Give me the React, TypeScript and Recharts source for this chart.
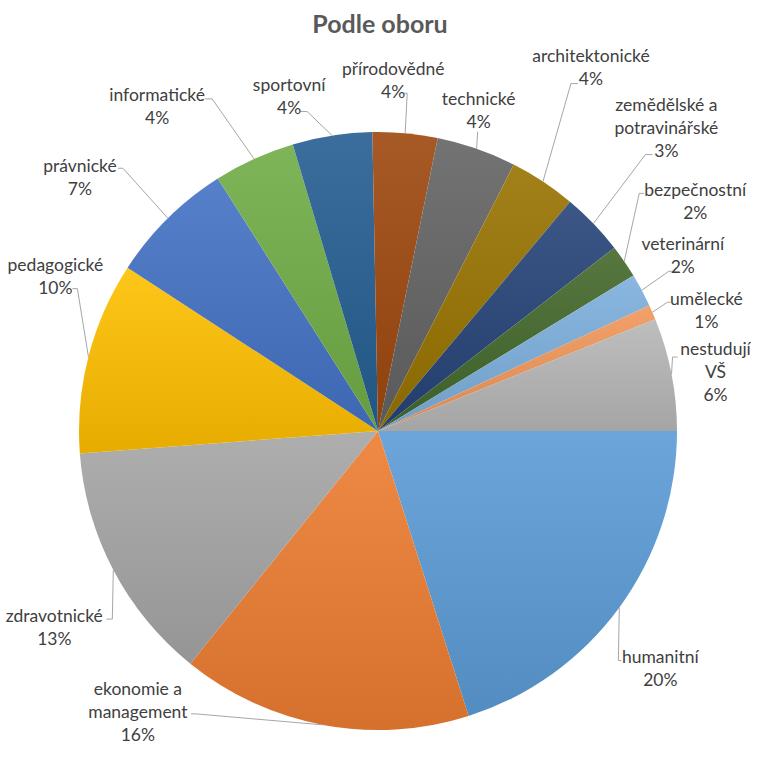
import { PieChart, Pie, Cell } from 'recharts';

// shares in percent (clockwise from 3 o'clock)
const categories = [
  'humanitní',
  'ekonomie a\nmanagement',
  'zdravotnické',
  'pedagogické',
  'právnické',
  'informatické',
  'sportovní',
  'přírodovědné',
  'technické',
  'architektonické',
  'zemědělské a\npotravinářské',
  'bezpečnostní',
  'veterinární',
  'umělecké',
  'nestudují\nVŠ',
];
const shares = [20.1, 15.7, 13.0, 10.4, 6.8, 4.4, 4.3, 3.5, 4.3, 3.6, 3.4, 1.8, 1.8, 0.8, 6.1];
const colors = [
  '#5B9BD5', '#ED7D31', '#A5A5A5', '#FFC000', '#4472C4', '#70AD47', '#255E91', '#9E480E',
  '#636363', '#997300', '#264478', '#43682B', '#7CAFDD', '#F1975A', '#B7B7B7',
];

// label placement, relative to the slice's outer mid point
const labelOffsets = [
  [41, 60], [-185, -14], [-59, 56], [-33, -81], [-88, -42], [-97, -53], [-43, -40], [-12, -54],
  [2, -39], [48, -115], [73, -97], [71, -61], [41, -36], [54, -3], [44, -3],
];
const leaderElbows = [
  [-1, 53], [-127, -11], [-1, 49], [-11, -68], [-45, -50], [-42, -60], [-25, -24], [2, -40],
  [1, -17], [28, -98], [52, -69], [15, -68], [27, -19], [15, -10], [1, -17],
];
const leaderEnds = [
  [2, 53], [-132, -11], [-7, 49], [-16, -68], [-50, -50], [-49, -60], [-32, -24], [-1, -40],
  [1, -17], [35, -98], [59, -69], [20, -68], [30, -19], [18, -10], [6, -17],
];

const data = categories.map((name, i) => ({ name, value: shares[i] }));
const total = shares.reduce((a, b) => a + b, 0);

const CX = 378;
const CY = 431;
const R = 299;
const LH = 23;
const RAD = Math.PI / 180;

function mix(hex: string, target: number, t: number) {
  const n = parseInt(hex.slice(1), 16);
  const ch = [(n >> 16) & 255, (n >> 8) & 255, n & 255].map((c) =>
    Math.round(c + (target - c) * t)
  );
  return '#' + ch.map((c) => c.toString(16).padStart(2, '0')).join('');
}

function renderLabel(props: any) {
  const { midAngle, index } = props;
  const cx = typeof props.cx === 'number' ? props.cx : CX;
  const cy = typeof props.cy === 'number' ? props.cy : CY;
  const r = typeof props.outerRadius === 'number' ? props.outerRadius : R;
  const ex = cx + r * Math.cos(-midAngle * RAD);
  const ey = cy + r * Math.sin(-midAngle * RAD);
  const [dx, dy] = labelOffsets[index];
  const [kx, ky] = leaderElbows[index];
  const [lx, ly] = leaderEnds[index];
  const pct = Math.round((shares[index] / total) * 100) + '%';
  const lines = [...categories[index].split('\n'), pct];
  const bx = ex + dx;
  const top = ey + dy - ((lines.length - 1) * LH) / 2;
  return (
    <g key={'lbl' + index}>
      <polyline
        points={`${ex},${ey} ${ex + kx},${ey + ky} ${ex + lx},${ey + ly}`}
        fill="none"
        stroke="#a6a6a6"
        strokeWidth={1}
      />
      <text
        x={bx}
        y={top}
        textAnchor="middle"
        dominantBaseline="central"
        fill="#404040"
        style={{ fontFamily: 'Lato, "Open Sans", sans-serif', fontSize: 17.5 }}
      >
        {lines.map((ln, j) => (
          <tspan key={j} x={bx} y={top + j * LH}>
            {ln}
          </tspan>
        ))}
      </text>
    </g>
  );
}

export default function App() {
  return (
    <div style={{ position: 'absolute', left: 0, top: 0, width: 760, height: 757, background: '#fff' }}>
      <svg width={0} height={0} style={{ position: 'absolute' }}>
        <defs>
          {colors.map((c, i) => (
            <linearGradient key={i} id={'sliceGrad' + i} x1="0" y1="0" x2="0" y2="1">
              <stop offset="0%" stopColor={mix(c, 255, 0.1)} />
              <stop offset="100%" stopColor={mix(c, 0, 0.1)} />
            </linearGradient>
          ))}
          <filter id="pieShadow" x="-10%" y="-10%" width="120%" height="120%">
            <feDropShadow dx="0" dy="2" stdDeviation="2.5" floodColor="#000" floodOpacity="0.35" />
          </filter>
        </defs>
      </svg>
      <div
        style={{
          position: 'absolute',
          left: 0,
          top: 8,
          width: 760,
          textAlign: 'center',
          fontFamily: 'Lato, "Open Sans", sans-serif',
          fontWeight: 700,
          fontSize: 25,
          color: '#595959',
        }}
      >
        Podle oboru
      </div>
      <style>{'.recharts-pie-sectors{filter:url(#pieShadow)}'}</style>
      <PieChart width={760} height={757} margin={{ top: 0, right: 0, bottom: 0, left: 0 }}>
        <Pie
          data={data}
          dataKey="value"
          nameKey="name"
          cx={CX}
          cy={CY}
          outerRadius={R}
          startAngle={0}
          endAngle={-360}
          stroke="none"
          labelLine={false}
          label={renderLabel}
          isAnimationActive={false}
        >
          {data.map((d, i) => (
            <Cell key={d.name} fill={`url(#sliceGrad${i})`} />
          ))}
        </Pie>
      </PieChart>
    </div>
  );
}
